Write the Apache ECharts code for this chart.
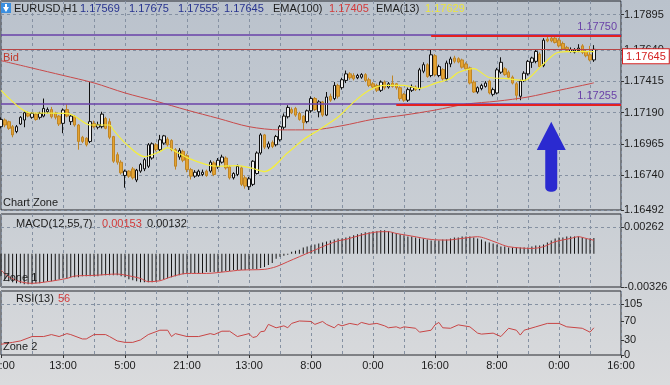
<!DOCTYPE html>
<html><head><meta charset="utf-8">
<script src="https://cdn.jsdelivr.net/npm/echarts@6/dist/echarts.min.js"></script>
<style>html,body{margin:0;padding:0;}#c{width:670px;height:385px;background:linear-gradient(180deg,#bac2cc 0%,#c9ced4 55%,#dadbdd 100%);}</style>
</head><body><div id="c"></div><script>
// ---- data ----
const timeLabels = ['21:00','13:00','5:00','21:00','13:00','8:00','0:00','16:00','8:00','0:00','16:00'];
const opens = [1.17090,1.17138,1.17126,1.17090,1.17055,1.17109,1.17138,1.17185,1.17157,1.17180,1.17157,1.17166,1.17197,1.17213,1.17185,1.17166,1.17114,1.17213,1.17126,1.17161,
1.17102,1.17014,1.17007,1.16984,1.17114,1.17086,1.17090,1.17149,1.17126,1.17019,1.16889,1.16835,1.16740,1.16771,1.16787,1.16707,1.16771,1.16787,1.16806,1.16865,
1.16960,1.16925,1.16972,1.17000,1.16991,1.16925,1.16872,1.16913,1.16882,1.16782,1.16735,1.16740,1.16747,1.16771,1.16771,1.16830,1.16801,1.16835,1.16865,1.16801,
1.16723,1.16747,1.16794,1.16723,1.16659,1.16676,1.16754,1.16901,1.17031,1.16943,1.16977,1.16960,1.16996,1.17086,1.17161,1.17213,1.17221,1.17185,1.17166,1.17126,
1.17204,1.17292,1.17197,1.17268,1.17173,1.17308,1.17292,1.17386,1.17370,1.17422,1.17469,1.17457,1.17441,1.17445,1.17464,1.17427,1.17398,1.17386,1.17351,1.17410,
1.17374,1.17403,1.17398,1.17370,1.17322,1.17280,1.17351,1.17374,1.17363,1.17488,1.17535,1.17457,1.17599,1.17457,1.17500,1.17434,1.17540,1.17583,1.17578,1.17569,
1.17540,1.17512,1.17410,1.17339,1.17363,1.17379,1.17417,1.17322,1.17332,1.17481,1.17505,1.17481,1.17445,1.17398,1.17308,1.17422,1.17469,1.17552,1.17559,1.17611,
1.17528,1.17718,1.17725,1.17725,1.17711,1.17687,1.17659,1.17630,1.17625,1.17635,1.17670,1.17630,1.17606,1.17569];
const closes = [1.17142,1.17102,1.17078,1.17031,1.17090,1.17157,1.17190,1.17166,1.17185,1.17142,1.17185,1.17221,1.17213,1.17161,1.17157,1.17109,1.17209,1.17166,1.17166,1.17102,
1.16984,1.16984,1.16960,1.17126,1.17090,1.17104,1.17180,1.17078,1.17014,1.16842,1.16835,1.16759,1.16771,1.16735,1.16723,1.16778,1.16818,1.16853,1.16960,1.16967,
1.16925,1.16996,1.17024,1.16960,1.16925,1.16806,1.16920,1.16849,1.16782,1.16735,1.16763,1.16771,1.16763,1.16740,1.16835,1.16747,1.16849,1.16872,1.16794,1.16723,
1.16754,1.16806,1.16676,1.16664,1.16716,1.16842,1.16901,1.17031,1.16943,1.16967,1.16948,1.17019,1.17090,1.17166,1.17228,1.17190,1.17173,1.17142,1.17119,1.17204,
1.17292,1.17213,1.17268,1.17173,1.17303,1.17280,1.17386,1.17308,1.17427,1.17469,1.17441,1.17434,1.17457,1.17464,1.17422,1.17386,1.17374,1.17351,1.17410,1.17370,
1.17398,1.17379,1.17370,1.17292,1.17280,1.17356,1.17374,1.17356,1.17498,1.17535,1.17450,1.17606,1.17464,1.17521,1.17434,1.17547,1.17576,1.17559,1.17554,1.17517,
1.17505,1.17403,1.17339,1.17370,1.17386,1.17403,1.17332,1.17356,1.17498,1.17552,1.17464,1.17445,1.17403,1.17315,1.17417,1.17474,1.17559,1.17583,1.17630,1.17521,
1.17711,1.17706,1.17706,1.17694,1.17670,1.17647,1.17640,1.17644,1.17640,1.17654,1.17623,1.17599,1.17569,1.17645];
const lows = [1.17078,1.17086,1.17067,1.17014,1.17043,1.17102,1.17086,1.17157,1.17147,1.17133,1.17142,1.17157,1.17185,1.17149,1.17142,1.17095,1.17043,1.17157,1.17102,1.17090,
1.16925,1.16972,1.16948,1.16972,1.17078,1.17071,1.17078,1.17071,1.17000,1.16830,1.16818,1.16747,1.16652,1.16723,1.16711,1.16692,1.16759,1.16771,1.16794,1.16853,
1.16913,1.16913,1.16960,1.16948,1.16913,1.16782,1.16853,1.16835,1.16763,1.16711,1.16723,1.16730,1.16735,1.16730,1.16759,1.16735,1.16787,1.16825,1.16782,1.16711,
1.16711,1.16735,1.16664,1.16645,1.16636,1.16664,1.16747,1.16889,1.16929,1.16929,1.16936,1.16948,1.16984,1.17067,1.17149,1.17180,1.17161,1.17133,1.17067,1.17114,
1.17190,1.17204,1.17157,1.17161,1.17166,1.17268,1.17280,1.17292,1.17356,1.17403,1.17427,1.17422,1.17431,1.17434,1.17410,1.17374,1.17363,1.17339,1.17339,1.17356,
1.17363,1.17370,1.17356,1.17275,1.17268,1.17268,1.17339,1.17346,1.17351,1.17474,1.17441,1.17445,1.17450,1.17445,1.17422,1.17422,1.17517,1.17545,1.17545,1.17507,
1.17493,1.17393,1.17332,1.17327,1.17351,1.17370,1.17322,1.17308,1.17322,1.17469,1.17455,1.17434,1.17393,1.17280,1.17280,1.17410,1.17457,1.17512,1.17545,1.17512,
1.17517,1.17696,1.17696,1.17687,1.17659,1.17640,1.17630,1.17621,1.17616,1.17625,1.17611,1.17588,1.17559,1.17555];
const highs = [1.17157,1.17149,1.17133,1.17102,1.17102,1.17166,1.17199,1.17199,1.17194,1.17190,1.17197,1.17292,1.17228,1.17232,1.17197,1.17173,1.17221,1.17251,1.17180,1.17173,
1.17109,1.17024,1.17014,1.17410,1.17133,1.17126,1.17197,1.17161,1.17149,1.17024,1.16906,1.16849,1.16782,1.16778,1.16801,1.16787,1.16830,1.16865,1.16972,1.16977,
1.16972,1.17031,1.17031,1.17014,1.17000,1.16936,1.16936,1.16925,1.16896,1.16794,1.16778,1.16782,1.16782,1.16782,1.16849,1.16842,1.16865,1.16889,1.16877,1.16811,
1.16763,1.16818,1.16806,1.16740,1.16730,1.16849,1.16913,1.17043,1.17038,1.16984,1.16991,1.17031,1.17102,1.17185,1.17244,1.17228,1.17232,1.17197,1.17173,1.17213,
1.17308,1.17303,1.17280,1.17275,1.17339,1.17327,1.17410,1.17398,1.17441,1.17493,1.17481,1.17474,1.17469,1.17474,1.17474,1.17441,1.17410,1.17398,1.17422,1.17422,
1.17410,1.17457,1.17403,1.17379,1.17332,1.17370,1.17393,1.17386,1.17512,1.17552,1.17545,1.17647,1.17611,1.17535,1.17510,1.17564,1.17592,1.17599,1.17588,1.17578,
1.17552,1.17521,1.17422,1.17379,1.17398,1.17417,1.17427,1.17370,1.17512,1.17588,1.17517,1.17493,1.17457,1.17410,1.17427,1.17488,1.17569,1.17592,1.17640,1.17623,
1.17725,1.17734,1.17734,1.17734,1.17725,1.17701,1.17670,1.17659,1.17654,1.17682,1.17682,1.17647,1.17670,1.17675];
const ema100 = [[0,1.17564],[8,1.17511],[16,1.17458],[24,1.17404],[32,1.17332],[40,1.17273],[48,1.17209],[56,1.17150],[64,1.17090],[72,1.17067],[80,1.17067],
[88,1.17097],[96,1.17143],[104,1.17173],[112,1.17209],[120,1.17252],[128,1.17273],[136,1.17303],[144,1.17351],[152,1.17398],[153,1.17405]];
const ema13 = [[0,1.17351],[5,1.17223],[8,1.17188],[17,1.17186],[19,1.17166],[23,1.17102],[28,1.17102],[29,1.17067],[32,1.16974],[37,1.16875],[41,1.16911],
[43,1.16939],[45,1.16913],[48,1.16868],[53,1.16818],[56,1.16806],[61,1.16811],[65,1.16790],[68,1.16768],[74,1.16903],[78,1.16996],[82,1.17067],[87,1.17159],
[91,1.17266],[95,1.17351],[99,1.17387],[104,1.17387],[108,1.17365],[112,1.17401],[116,1.17436],[118,1.17479],[122,1.17507],[126,1.17443],[130,1.17436],
[135,1.17422],[139,1.17514],[143,1.17614],[146,1.17628],[153,1.17629]];
const macdHist = [-0.0022,-0.0025,-0.0027,-0.0028,-0.0029,-0.0029,-0.0030,-0.0030,-0.0030,-0.0029,-0.0029,-0.0028,-0.0027,-0.0027,-0.0026,-0.0025,-0.0024,-0.0024,-0.0023,-0.0023,
-0.0023,-0.0022,-0.0022,-0.0022,-0.0022,-0.0022,-0.0021,-0.0021,-0.0021,-0.0021,-0.0021,-0.0022,-0.0023,-0.0025,-0.0026,-0.0027,-0.0028,-0.0028,-0.0028,-0.0028,
-0.0027,-0.0026,-0.0025,-0.0024,-0.0023,-0.0022,-0.0021,-0.0020,-0.0019,-0.0019,-0.0019,-0.0019,-0.0019,-0.0018,-0.0018,-0.0018,-0.0018,-0.0018,-0.0017,-0.0017,
-0.0016,-0.0016,-0.0016,-0.0016,-0.0015,-0.0015,-0.0015,-0.0014,-0.0013,-0.0011,-0.0009,-0.0005,-0.0003,-0.0002,-0.0001,0.0002,0.0003,0.0004,0.0006,0.0007,
0.0008,0.0009,0.0010,0.0011,0.0012,0.0013,0.0014,0.0015,0.0015,0.0016,0.0017,0.0018,0.0019,0.0020,0.0021,0.0021,0.0022,0.0022,0.0023,0.0023,
0.0022,0.0021,0.0020,0.0019,0.0018,0.0017,0.0017,0.0016,0.0015,0.0015,0.0014,0.0013,0.0013,0.0013,0.0014,0.0014,0.0015,0.0016,0.0016,0.0017,
0.0017,0.0017,0.0016,0.0015,0.0014,0.0012,0.0011,0.0010,0.0009,0.0007,0.0007,0.0006,0.0006,0.0006,0.0006,0.0006,0.0006,0.0007,0.0008,0.0008,
0.0009,0.0011,0.0013,0.0015,0.0016,0.0016,0.0017,0.0017,0.0017,0.0017,0.0016,0.0015,0.0015,0.00153];
const macdSignal = [[0,-0.0016],[2,-0.00225],[5,-0.00274],[8,-0.0029],[12,-0.00274],[17,-0.00242],[19,-0.00219],[24,-0.00212],[30,-0.00199],[32,-0.00209],
[36,-0.00242],[38,-0.00274],[41,-0.00265],[44,-0.00225],[48,-0.00193],[53,-0.00193],[58,-0.00176],[62,-0.0016],[68,-0.00153],[71,-0.00127],[74,-0.00078],
[77,-0.00029],[80,0.0002],[84,0.00085],[87,0.00127],[89,0.0014],[93,0.00183],[98,0.00216],[100,0.00216],[102,0.00199],[106,0.00173],[111,0.0014],[115,0.00134],
[119,0.0015],[123,0.00167],[125,0.0015],[128,0.00108],[131,0.00069],[137,0.00052],[140,0.00069],[143,0.00118],[147,0.0015],[149,0.00167],[151,0.0015],[153,0.00132]];
const rsi = [[0,22],[3,26],[5,29],[8,38],[11,38],[13,42],[15,38],[17,44],[18,42],[21,33],[22,33],[24,42],[27,42],[28,38],[30,29],[32,26],[34,26],[36,31],[38,42],
[40,48],[41,51],[43,51],[44,38],[45,44],[48,38],[51,38],[54,44],[55,42],[57,49],[59,49],[61,38],[64,44],[65,36],[66,38],[67,48],[68,49],[69,63],[71,56],[73,60],
[74,56],[75,65],[77,70],[80,69],[81,63],[83,69],[84,63],[86,56],[87,63],[88,60],[90,65],[92,62],[93,67],[95,63],[97,65],[99,60],[100,56],[102,58],[103,55],
[104,58],[107,55],[108,47],[111,51],[112,62],[113,67],[114,56],[116,55],[118,62],[121,58],[123,45],[124,43],[127,45],[129,38],[131,55],[133,51],[134,41],
[135,51],[138,58],[141,65],[144,65],[146,58],[150,55],[152,47],[153,56]];
const priceTicks = [1.16492,1.16740,1.16965,1.17190,1.17415,1.17640,1.17895];
const macdTicks = [-0.00326,0.00262];
const rsiTicks = [0,30,70,105];
const levelHigh = 1.17750, levelLow = 1.17255, bidPrice = 1.17645;
const zoneTop = 1.17745, zoneBottom = 1.17250;
const arrowAt = [142, 1.16874];

// ---- chart ----
const FF = '"Liberation Sans", Arial, sans-serif';
const FONT = '11px ' + FF;
const N = 161;
const cats = Array.from({length: N}, (_, i) => String(i));
const last = opens.length - 1;
const candles = opens.map((o, i) => [o, closes[i], lows[i], highs[i]]);
const dash = {color: '#8591a2', type: [3, 3], width: 1};
const TXT = '#1c1c1c', BLUE = '#27338f', RED = '#d23a3a', PURPLE = '#6a42a8';

function xAx(gi, show) {
  return {type: 'category', gridIndex: gi, data: cats, boundaryGap: false,
    axisLine: {show: false},
    axisTick: {show: show, interval: 15, length: 3, lineStyle: {color: '#333'}},
    axisLabel: {show: show, interval: 15, color: TXT, fontSize: 11, fontFamily: FF, margin: 5,
      formatter: (v, i) => (i % 16 === 0 ? timeLabels[i / 16] : '')},
    splitLine: {show: true, interval: 7, lineStyle: dash}};
}
function yAx(gi, min, max, ticks, fmt, split) {
  return {type: 'value', gridIndex: gi, position: 'right', min: min, max: max, scale: true,
    axisLine: {show: false},
    axisTick: {show: true, length: 3, customValues: ticks, lineStyle: {color: '#333'}},
    axisLabel: {customValues: ticks, formatter: fmt, color: TXT, fontSize: 11, fontFamily: FF, margin: 3},
    splitLine: {show: split, lineStyle: dash}};
}
const gridBase = {left: 1, right: 49, show: true, borderColor: '#26292e', borderWidth: 1,
  backgroundColor: 'transparent', outerBoundsMode: 'none', containLabel: false};
const T = (x, y, text, fill) => ({type: 'text', x: x, y: y, z: 100,
  style: {text: text, fill: fill, font: FONT, verticalAlign: 'middle'}});
const hLine = (color, width) => ({color: color, width: width, type: 'solid'});

const chart = echarts.init(document.getElementById('c'), null, {renderer: 'canvas'});
chart.setOption({
  animation: false,
  backgroundColor: 'transparent',
  grid: [Object.assign({top: 1, height: 209}, gridBase),
         Object.assign({top: 214, height: 73}, gridBase),
         Object.assign({top: 291, height: 64}, gridBase)],
  xAxis: [xAx(0, false), xAx(1, false), xAx(2, true)],
  yAxis: [yAx(0, 1.16492, 1.17992, priceTicks, v => v.toFixed(5), true),
          yAx(1, -0.00326, 0.003894, macdTicks, v => v.toFixed(5), false),
          yAx(2, 0, 131.7, rsiTicks, v => String(v), false)],
  series: [
    {type: 'candlestick', xAxisIndex: 0, yAxisIndex: 0, data: candles, barWidth: 3,
      itemStyle: {color: '#f2f2f2', color0: '#e3a332', borderColor: '#111', borderColor0: '#bf8526', borderWidth: 1}},
    {type: 'line', xAxisIndex: 0, yAxisIndex: 0, data: ema100, showSymbol: false, smooth: 0.3, clip: false,
      lineStyle: {color: '#c84a4a', width: 1}, z: 4,
      markLine: {silent: true, symbol: ['none', 'none'], animation: false, precision: 5,
        data: [
          {yAxis: levelHigh, lineStyle: hLine(PURPLE, 1.5),
            label: {show: true, position: 'insideEndTop', formatter: levelHigh.toFixed(5), color: PURPLE, fontSize: 11, fontFamily: FF, distance: [4, 2]}},
          {yAxis: levelLow, lineStyle: hLine(PURPLE, 1.5),
            label: {show: true, position: 'insideEndTop', formatter: levelLow.toFixed(5), color: PURPLE, fontSize: 11, fontFamily: FF, distance: [4, 2]}},
          {yAxis: bidPrice, lineStyle: hLine('#b84646', 1),
            label: {show: true, position: 'insideStartBottom', formatter: 'Bid', color: '#c0392b', fontSize: 11, fontFamily: FF, distance: [2, 3]}},
          {yAxis: bidPrice, lineStyle: hLine('#b84646', 1),
            label: {show: true, position: 'end', formatter: bidPrice.toFixed(5), color: '#d42020', fontSize: 11, fontFamily: FF,
              backgroundColor: '#ffffff', borderColor: '#d42020', borderWidth: 1, padding: [2, 3, 1, 3], distance: 2, verticalAlign: 'top'}},
          [{coord: [111, zoneTop]}, {coord: [160, zoneTop], lineStyle: hLine('#e42020', 2), label: {show: false}}],
          [{coord: [102, zoneBottom]}, {coord: [160, zoneBottom], lineStyle: hLine('#e42020', 2), label: {show: false}}]
        ]},
      markPoint: {silent: true, animation: false, label: {show: false},
        data: [{coord: arrowAt, symbol: 'path://M14.5,0 L29,28 L20.5,28 L20.5,65 C20.5,71 8.5,71 8.5,65 L8.5,28 L0,28 Z',
          symbolSize: [29, 70], symbolKeepAspect: false, itemStyle: {color: '#2a2ad0'}}]}},
    {type: 'line', xAxisIndex: 0, yAxisIndex: 0, data: ema13, showSymbol: false, smooth: 0.3,
      lineStyle: {color: '#f4ee3c', width: 1.2}, z: 5},
    {type: 'bar', xAxisIndex: 1, yAxisIndex: 1, data: macdHist, barWidth: 1, itemStyle: {color: '#151515'}},
    {type: 'line', xAxisIndex: 1, yAxisIndex: 1, data: macdSignal, showSymbol: false, smooth: 0.3,
      lineStyle: {color: '#d04848', width: 1}, z: 4,
      markLine: {silent: true, symbol: ['none', 'none'], precision: 5, label: {show: false}, lineStyle: dash, data: [{yAxis: macdTicks[1]}]}},
    {type: 'line', xAxisIndex: 2, yAxisIndex: 2, data: rsi, showSymbol: false,
      lineStyle: {color: '#c84545', width: 1},
      markLine: {silent: true, symbol: ['none', 'none'], precision: 5, label: {show: false}, lineStyle: dash, data: [{yAxis: rsiTicks[3]}]}}
  ],
  graphic: [
    {type: 'rect', shape: {x: 1, y: 3, width: 10, height: 10}, style: {fill: '#3b8fe0'}, z: 100},
    {type: 'polygon', shape: {points: [[3, 7], [9, 7], [6, 12]]}, style: {fill: '#ffffff'}, z: 101},
    {type: 'rect', shape: {x: 5, y: 4, width: 2, height: 3}, style: {fill: '#ffffff'}, z: 101},
    T(14, 9, 'EURUSD,H1', TXT),
    T(80, 9, opens[last].toFixed(5), BLUE),
    T(129, 9, highs[last].toFixed(5), BLUE),
    T(178, 9, lows[last].toFixed(5), BLUE),
    T(224, 9, closes[last].toFixed(5), BLUE),
    T(273, 9, 'EMA(100)', TXT),
    T(329, 9, ema100[ema100.length - 1][1].toFixed(5), RED),
    T(376, 9, 'EMA(13)', TXT),
    T(425, 9, ema13[ema13.length - 1][1].toFixed(5), '#ece63c'),
    T(3, 203, 'Chart Zone', TXT),
    T(16, 224, 'MACD(12,55,7)', TXT),
    T(102, 224, macdHist[macdHist.length - 1].toFixed(5), RED),
    T(147, 224, macdSignal[macdSignal.length - 1][1].toFixed(5), TXT),
    T(3, 278, 'Zone 1', TXT),
    T(16, 299, 'RSI(13)', TXT),
    T(58, 299, String(rsi[rsi.length - 1][1]), RED),
    T(3, 347, 'Zone 2', TXT)
  ]
});
</script></body></html>
